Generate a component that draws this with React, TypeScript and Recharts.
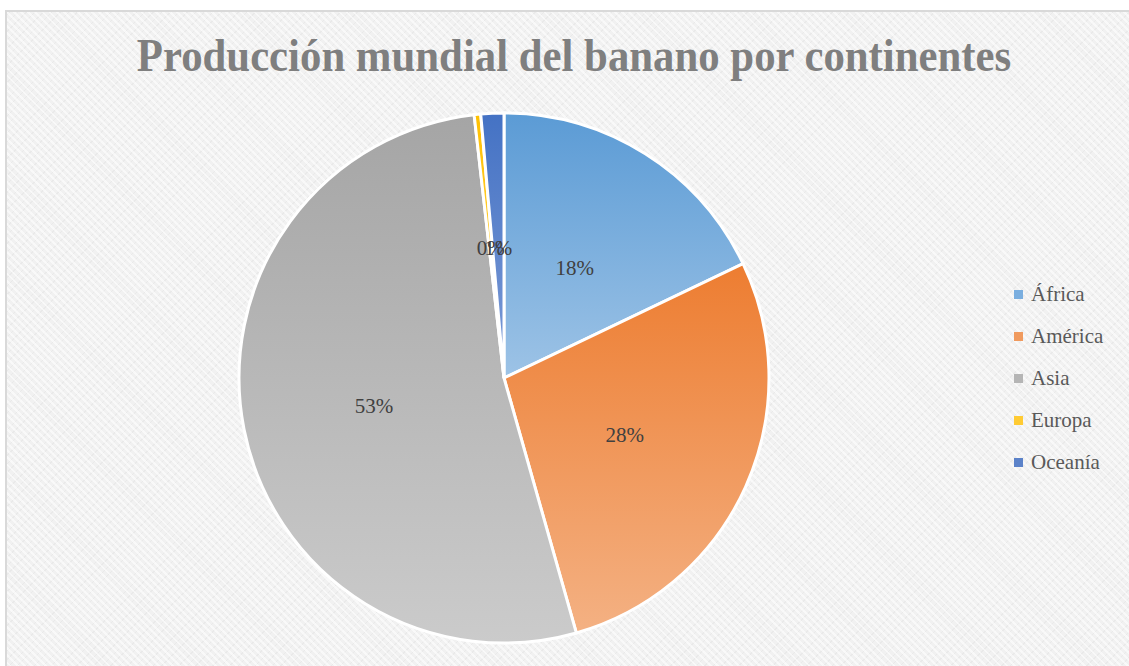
import { PieChart, Pie, Cell, Legend } from 'recharts'

const continents = ['África', 'América', 'Asia', 'Europa', 'Oceanía']
const shares = [17.9, 27.7, 52.6, 0.4, 1.4]
const topColors = ['#5b9bd5', '#ed7d31', '#a5a5a5', '#ffc000', '#4472c4']
const bottomColors = ['#9dc3e6', '#f4b183', '#cbcbcb', '#ffd966', '#7d9bd6']
const legendColors = ['#7aaedf', '#f09a5e', '#b5b5b5', '#ffcb33', '#5b82c9']

const data = continents.map((name, i) => ({ name, value: shares[i] }))

const RAD = Math.PI / 180
const SERIF = "'Liberation Serif', 'Times New Roman', serif"

function renderLabel(props: any) {
  const { cx, cy, midAngle, outerRadius, percent } = props
  const r = outerRadius * 0.5
  const x = cx + r * Math.cos(-midAngle * RAD)
  const y = cy + r * Math.sin(-midAngle * RAD) + 2
  return (
    <text x={x} y={y} textAnchor="middle" dominantBaseline="central" fill="#404040"
      fontFamily={SERIF} fontSize={21} style={{ fontFamily: SERIF, fontSize: 21 }}>
      {`${Math.round(percent * 100)}%`}
    </text>
  )
}

function LegendBox() {
  return (
    <div style={{ fontFamily: SERIF, fontSize: 21, color: '#595959' }}>
      {continents.map((c, i) => (
        <div key={c} style={{ display: 'flex', alignItems: 'center', height: 42 }}>
          <span style={{ width: 9, height: 9, background: legendColors[i], marginRight: 8, display: 'inline-block' }} />
          <span>{c}</span>
        </div>
      ))}
    </div>
  )
}

export default function App() {
  return (
    <div style={{ position: 'fixed', left: 0, top: 0, width: 1129, height: 666, overflow: 'hidden', background: '#fff' }}>
      <div style={{
        position: 'absolute', left: 5, top: 10, width: 1140, height: 670,
        border: '2px solid #d9d9d9', boxSizing: 'border-box',
        backgroundColor: '#f1f1f1',
        backgroundImage: 'repeating-linear-gradient(45deg, rgba(255,255,255,0.55) 0 2px, transparent 2px 5px), repeating-linear-gradient(-45deg, rgba(220,220,220,0.35) 0 1px, transparent 1px 6px)',
      }} />
      <div style={{
        position: 'absolute', left: 574, top: 29, transform: 'translateX(-50%) scaleX(0.93)', whiteSpace: 'nowrap',
        fontFamily: SERIF, fontWeight: 'bold', fontSize: 46, color: '#7f7f7f',
      }}>
        Producción mundial del banano por continentes
      </div>
      <div style={{ position: 'absolute', left: 0, top: 0 }}>
        <PieChart width={1129} height={666} margin={{ top: 0, right: 0, bottom: 0, left: 0 }}>
          <defs>
            {continents.map((c, i) => (
              <linearGradient key={c} id={`grad${i}`} x1="0" y1="0" x2="0" y2="1">
                <stop offset="0%" stopColor={topColors[i]} />
                <stop offset="100%" stopColor={bottomColors[i]} />
              </linearGradient>
            ))}
          </defs>
          <Pie data={data} dataKey="value" nameKey="name" cx={504} cy={378} outerRadius={265}
            startAngle={90} endAngle={-270} stroke="#ffffff" strokeWidth={3}
            label={renderLabel} labelLine={false} isAnimationActive={false}>
            {data.map((d, i) => (
              <Cell key={d.name} fill={`url(#grad${i})`} />
            ))}
          </Pie>
          <Legend layout="vertical" align="right" verticalAlign="top" content={<LegendBox />}
            wrapperStyle={{ left: 1014, top: 273, width: 115 }} />
        </PieChart>
      </div>
    </div>
  )
}
